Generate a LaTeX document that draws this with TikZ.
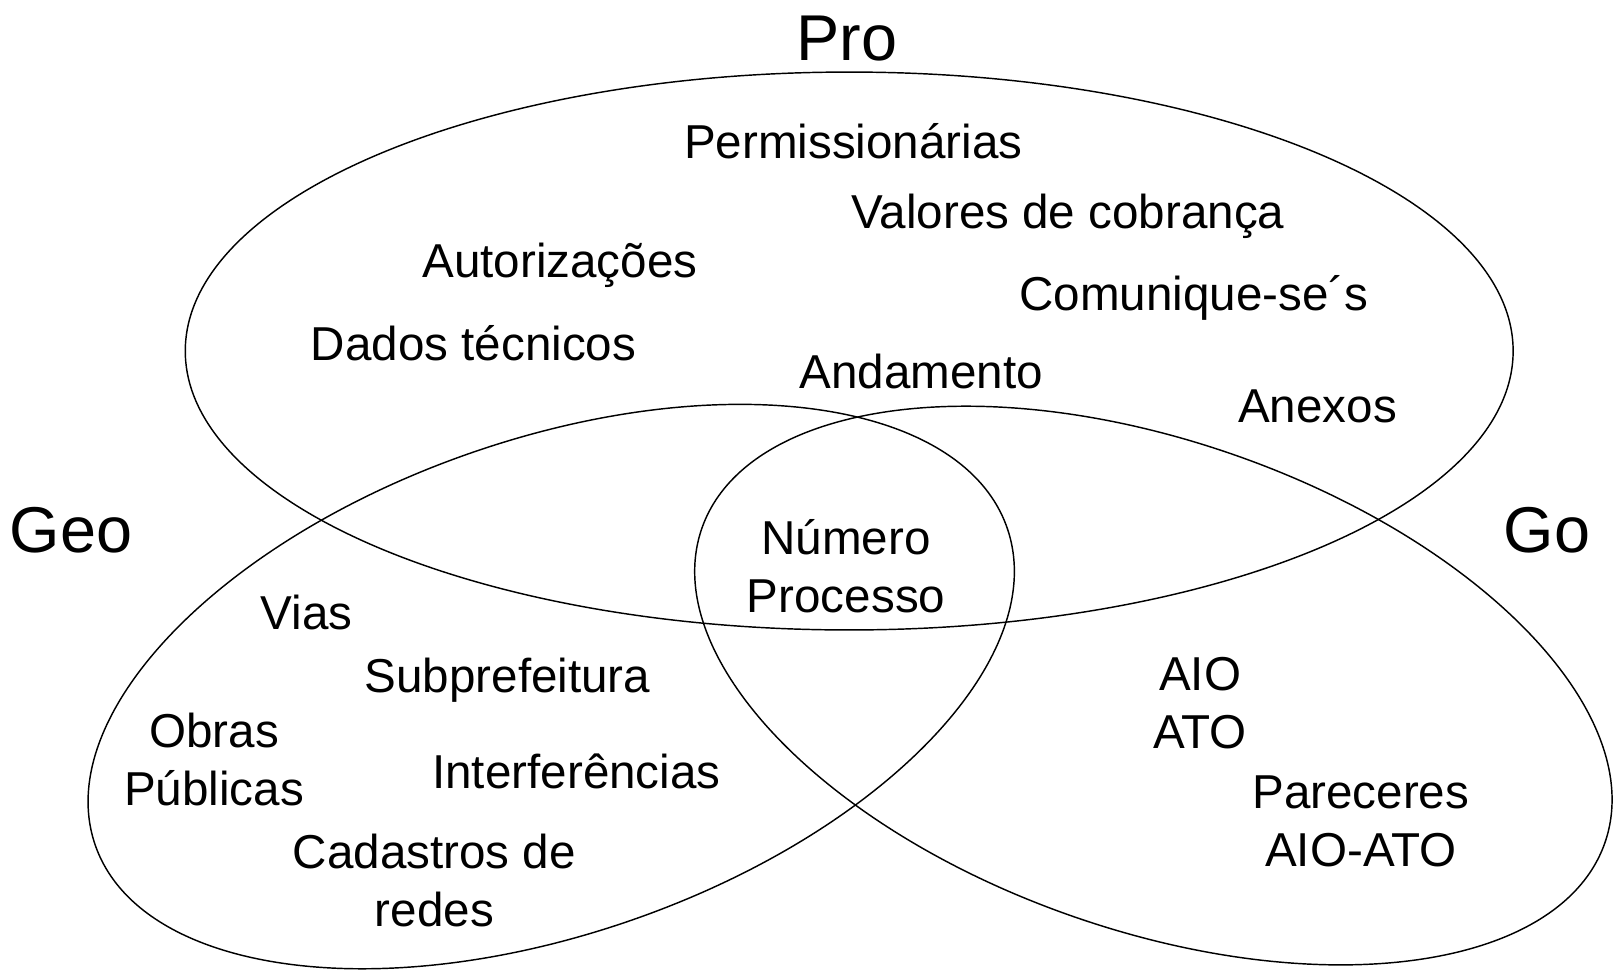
\documentclass[tikz,border=0pt]{standalone}
\usepackage{fontspec}
\setmainfont{Liberation Sans}
\usepackage{tikz}
\usetikzlibrary{positioning,calc}

\begin{document}
\begin{tikzpicture}[item/.style={font=\fontsize{13.15}{15.9}\selectfont, align=center, inner sep=0pt},
    setname/.style={font=\fontsize{17.9}{21}\selectfont, inner sep=0pt},
    setline/.style={draw=black, line width=0.4pt}]

    \useasboundingbox (0,0) rectangle (15.68,9.43);

    % the three sets
    \draw[setline] (8.25,6.02) ellipse [x radius=6.45, y radius=2.71];
    \draw[setline, rotate around={19.2:(5.355,2.76)}] (5.355,2.76) ellipse [x radius=4.69, y radius=2.40];
    \draw[setline, rotate around={-19.2:(11.205,2.77)}] (11.205,2.77) ellipse [x radius=4.645, y radius=2.375];

    % set names
    \node [setname] (pro) at (8.23,9.06) {Pro};
    \node [setname] (geo) at (0.69,4.28) {Geo};
    \node [setname] (go) at (15.03,4.28) {Go};

    % Pro
    \node [item] (perm) at (8.29,8.06) {Permissionárias};
    \node [item] (valores) at (10.375,7.33) {Valores de cobrança};
    \node [item] (autoriz) at (5.44,6.85) {Autorizações};
    \node [item] (comunique) at (11.60,6.54) {Comunique-se´s};
    \node [item] (dados) at (4.60,6.10) {Dados técnicos};
    \node [item] (andamento) at (8.95,5.82) {Andamento};
    \node [item] (anexos) at (12.80,5.48) {Anexos};

    % centre
    \node [item] (numero) at (8.22,3.93) {Número\\Processo};

    % Geo
    \node [item] (vias) at (2.98,3.48) {Vias};
    \node [item] (subpref) at (4.93,2.82) {Subprefeitura};
    \node [item] (obras) at (2.08,2.05) {Obras\\Públicas};
    \node [item] (interf) at (5.60,1.94) {Interferências};
    \node [item] (cadastros) at (4.22,0.875) {Cadastros de\\redes};

    % Go
    \node [item] (aioato) at (11.66,2.60) {AIO\\ATO};
    \node [item] (pareceres) at (13.22,1.45) {Pareceres\\AIO-ATO};
\end{tikzpicture}
\end{document}
